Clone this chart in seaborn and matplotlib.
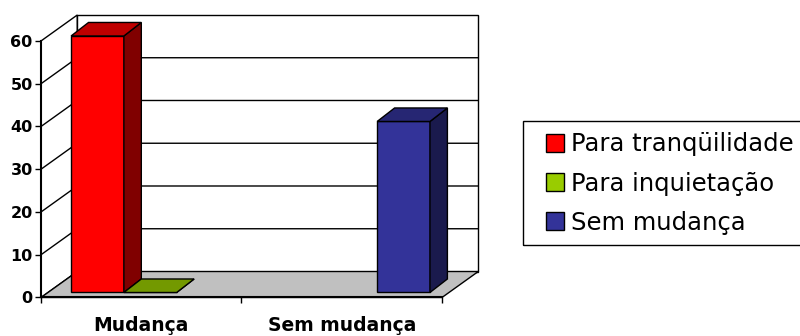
import matplotlib
matplotlib.use("Agg")
import matplotlib.pyplot as plt
import seaborn as sns
import pandas as pd
from matplotlib.patches import Polygon, Rectangle, Patch
from matplotlib.transforms import Affine2D
from matplotlib.colors import to_rgb

# Data
category_order = ["Mudança", "Sem mudança"]
series_order = ["Para tranqüilidade", "Para inquietação", "Sem mudança"]
row_category = ["Mudança", "Mudança", "Sem mudança"]
row_series = ["Para tranqüilidade", "Para inquietação", "Sem mudança"]
row_values = [60, 0, 40]
y_ticks = [0, 10, 20, 30, 40, 50, 60]
series_colors = ["#FF0000", "#99CC00", "#333399"]

sns.set_theme(style="white")
plt.rcParams["font.family"] = ["DejaVu Sans"]
plt.rcParams["text.color"] = "black"

fig = plt.figure(figsize=(8, 3.36), dpi=100)
ax = fig.add_axes([0.05125, 0.1146, 0.5466, 0.8408])

df = pd.DataFrame({"categoria": row_category, "serie": row_series, "valor": row_values})
palette = dict(zip(series_order, series_colors))

sns.barplot(data=df, x="categoria", y="valor", hue="serie",
            order=category_order, hue_order=series_order, palette=palette,
            width=0.79, errorbar=None, saturation=1, legend=False,
            edgecolor="black", linewidth=1.0, zorder=5, ax=ax)
bars = list(ax.patches)

# oblique depth of the plot box and of the bars (data units)
YMAX = y_ticks[-1]
DX, DY = 0.181, 6.08          # full depth of floor / walls
BX, BY = 0.045, 1.17          # bar front face offset
BDX, BDY = 0.087, 3.16        # bar depth
x0, x1 = -0.5, 1.5

ax.set_xlim(x0, x1 + DX)
ax.set_ylim(0, YMAX + DY)

# walls and floor
ax.add_patch(Polygon([(x0, 0), (x0, YMAX), (x0 + DX, YMAX + DY), (x0 + DX, DY)],
                     closed=True, fc="white", ec="black", lw=1, zorder=0.5,
                     clip_on=False))
ax.add_patch(Rectangle((x0 + DX, DY), x1 - x0, YMAX, fc="white", ec="black",
                       lw=1, zorder=0.5, clip_on=False))
for v in y_ticks[1:-1]:
    ax.plot([x0, x0 + DX, x1 + DX], [v, v + DY, v + DY], color="black",
            lw=1, zorder=0.8, clip_on=False)
ax.add_patch(Polygon([(x0, 0), (x1, 0), (x1 + DX, DY), (x0 + DX, DY)],
                     closed=True, fc="#C0C0C0", ec="black", lw=1, zorder=1,
                     clip_on=False))


def shade(c, k):
    r, g, b = to_rgb(c)
    return (r * k, g * k, b * k)


# give each bar a top and a side face
for bar in bars:
    x, w, h = bar.get_x(), bar.get_width(), bar.get_height()
    fc = bar.get_facecolor()
    tr = Affine2D().translate(BX, BY) + ax.transData
    bar.set_transform(tr)
    top = Polygon([(x, h), (x + w, h), (x + w + BDX, h + BDY), (x + BDX, h + BDY)],
                  closed=True, fc=shade(fc, 0.75), ec="black", lw=1,
                  transform=tr, zorder=5)
    side = Polygon([(x + w, 0), (x + w + BDX, BDY), (x + w + BDX, h + BDY), (x + w, h)],
                   closed=True, fc=shade(fc, 0.5), ec="black", lw=1,
                   transform=tr, zorder=5)
    ax.add_patch(side)
    ax.add_patch(top)

# axes
for s in ["top", "right"]:
    ax.spines[s].set_visible(False)
ax.spines["left"].set_bounds(0, YMAX)
ax.spines["bottom"].set_bounds(x0, x1)
for s in ["left", "bottom"]:
    ax.spines[s].set_color("black")
    ax.spines[s].set_linewidth(1.5)
    ax.spines[s].set_zorder(6)

ax.set_yticks(y_ticks)
ax.tick_params(axis="y", left=True, direction="out", length=4, width=1,
               color="black", labelsize=11.5, pad=2, labelcolor="black")
for lbl in ax.get_yticklabels():
    lbl.set_fontweight("bold")

ax.set_xticks([0, 1])
ax.set_xticklabels(category_order)
ax.tick_params(axis="x", which="major", bottom=True, length=0, pad=13,
               labelsize=13.5, labelcolor="black")
for lbl in ax.get_xticklabels():
    lbl.set_fontweight("bold")
ax.set_xticks([x0, 0.5, x1], minor=True)
ax.tick_params(axis="x", which="minor", bottom=True, direction="out",
               length=4, width=1, color="black")
ax.set_xlabel("")
ax.set_ylabel("")

# legend
fig.add_artist(Rectangle((523 / 800, 1 - 245 / 336), 0.5, 124 / 336,
                         transform=fig.transFigure, fill=False, ec="black", lw=1))
handles = [Patch(fc=c, ec="black", lw=1) for c in series_colors]
leg = ax.legend(handles, series_order, loc="center left",
                bbox_to_anchor=(546 / 800, 1 - 183.5 / 336),
                bbox_transform=fig.transFigure,
                frameon=False, fontsize=17.5, borderpad=0, borderaxespad=0,
                handlelength=0.74, handleheight=0.74, handletextpad=0.3,
                labelspacing=0.62)
for t in leg.get_texts():
    t.set_color("black")

fig.savefig("out.png", dpi=100)
